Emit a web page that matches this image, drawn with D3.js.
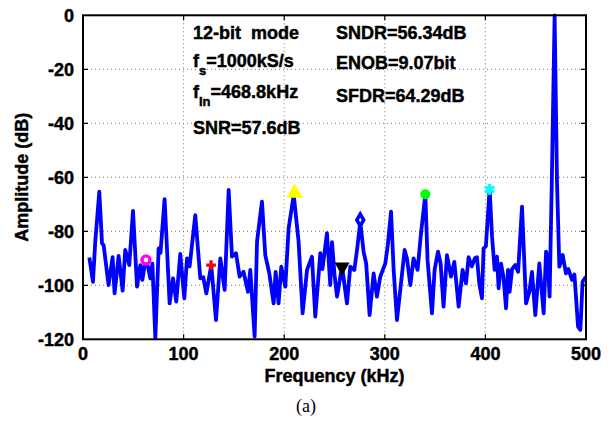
<!DOCTYPE html>
<html>
<head>
<meta charset="utf-8">
<script src="https://cdn.jsdelivr.net/npm/d3@7"></script>
<style>
  body { margin: 0; background: #fff; }
  svg { display: block; }
  .lbl { font-family: "Liberation Sans", Arial, Helvetica, sans-serif; font-weight: bold; fill: #000;
         stroke: #000; stroke-width: 0.45px; }
</style>
</head>
<body>
<div id="chart"></div>
<script>
// spectrum: frequency (kHz) and amplitude (dB)
const freq = [6.3, 9.9, 12.2, 16.2, 18.9, 20.5, 25.4, 29.4, 31.4, 35.4, 39.4, 42, 46, 49.7, 53.7, 57, 59, 62, 64.5,
  66.9, 69, 71.9, 75.2, 77, 81.1, 86.1, 89.5, 92.7, 96.7, 100.7, 103.4, 106, 111.6, 116.6, 119.5, 122.6, 127.5,
  132.2, 136.5, 140.8, 144.8, 148.1, 152.1, 155.7, 159.6, 164, 166.3, 170.6, 173, 177.9, 181.2, 185.2, 189.5,
  191.5, 194.4, 197.1, 201.1, 204.4, 209.5, 214.3, 218.3, 222.7, 227.6, 230.9, 235.9, 238, 242.5, 245.8, 247.5,
  250, 252.5, 257.5, 260, 262.4, 265.7, 269.7, 272.4, 275.6, 278.9, 281.5, 284.9, 288.9, 292.2, 295.5, 300.5,
  303, 306.2, 308.8, 312.1, 316.1, 319.7, 322, 325.4, 328.6, 332.6, 336, 340.3, 342.5, 346.9, 349.5, 352.9,
  355.5, 358.4, 361.8, 365.8, 369.1, 373.4, 377.3, 380.7, 383.3, 386.5, 389.5, 391.6, 393.9, 396.6, 398.2,
  400.5, 404.2, 406.6, 409.2, 411.5, 413.1, 415.5, 418, 420.5, 422.5, 424.1, 426.5, 429.7, 432.5, 436.4,
  440.4, 443.7, 446.3, 449.6, 453.6, 457.9, 460.3, 461.8, 463.8, 466, 468.8, 471.2, 473.5, 476.8, 480.1,
  482.5, 486.1, 488.5, 492.1, 494.4, 496.6, 500];
const amp = [-89.7, -98.7, -83.8, -65.3, -84.5, -85.1, -99.9, -89.6, -103, -89.1, -102, -86.9, -92.5, -72.4, -100.5, -92.5, -98, -91, -93,
  -97.4, -92, -119.6, -86.3, -88, -68.1, -106.7, -97.4, -106, -88.4, -104.8, -90, -93, -74, -97.4, -97, -103, -92.5,
  -112.9, -90, -101.7, -64.7, -89.4, -88.1, -96.8, -95, -102.4, -94.3, -119, -83.8, -69, -88.8, -95.6, -106.7,
  -95, -106.7, -93.1, -100.5, -78.9, -66.5, -83.8, -110.4, -94.3, -89.4, -111.6, -88.1, -94, -80.7, -99.9, -84,
  -96, -104.2, -93, -100, -106.7, -93.1, -94.3, -86.9, -76.5, -87.5, -92, -111, -95.6, -104.2, -96.8, -91.9,
  -85, -72.7, -94.3, -112.9, -99.3, -86.9, -90, -99.9, -90, -94.3, -80.7, -66.3, -90.6, -110.4, -94.3, -87.5,
  -92, -107.9, -88.8, -96.8, -91.3, -107.9, -94.3, -99.3, -89.6, -93, -90, -89.6, -99.3, -104.8, -86.3,
  -85.5, -64.3, -82, -94.3, -89.4, -101.1, -92, -97, -108.5, -94.3, -102.4, -94, -92.5, -95, -70.9,
  -106.7, -102.4, -95, -111, -91.9, -110.4, -87.5, -89, -104.2, -62, 0, -62, -93.1, -88.8, -95.6,
  -94, -98, -96, -115.3, -116.5, -98.7, -96.8];

// harmonic markers
const markFreq = [62.6, 127.3, 210.3, 257.5, 275.6, 340.3, 404.2];
const markAmp = [-90.6, -92.5, -65.8, -93.2, -75.8, -66.3, -64.5];
const markKind = ['ring', 'plus', 'triUp', 'triDown', 'diamond', 'dot', 'star'];
const markColor = ['#ff00ff', '#ff0000', '#ffff00', '#000000', '#0000ff', '#00ff00', '#00ffff'];

const xTicks = [0, 100, 200, 300, 400, 500];
const yTicks = [0, -20, -40, -60, -80, -100, -120];

const W = 611, H = 426;
const L = 83, R = 586, T = 15.3, B = 339.3;

const svg = d3.select('#chart').append('svg')
  .attr('width', W).attr('height', H);

const x = d3.scaleLinear().domain([0, 500]).range([L, R]);
const y = d3.scaleLinear().domain([-120, 0]).range([B, T]);

// grid
const grid = svg.append('g')
  .attr('stroke', '#777').attr('stroke-width', 1).attr('stroke-dasharray', '1,3');
grid.selectAll('.gx').data(xTicks.slice(1, -1)).enter().append('line')
  .attr('x1', d => x(d)).attr('x2', d => x(d)).attr('y1', T).attr('y2', B);
grid.selectAll('.gy').data(yTicks.slice(1, -1)).enter().append('line')
  .attr('x1', L).attr('x2', R).attr('y1', d => y(d)).attr('y2', d => y(d));

// spectrum line
svg.append('clipPath').attr('id', 'clip').append('rect')
  .attr('x', L).attr('y', T - 2).attr('width', R - L).attr('height', B - T + 2);

const pts = freq.map((f, i) => [f, amp[i]]);
svg.append('path')
  .datum(pts)
  .attr('clip-path', 'url(#clip)')
  .attr('fill', 'none')
  .attr('stroke', '#0000ff')
  .attr('stroke-width', 3.8)
  .attr('stroke-linejoin', 'round')
  .attr('d', d3.line().x(d => x(d[0])).y(d => y(d[1])));

// markers
const mk = svg.append('g');
markFreq.forEach((f, i) => {
  const g = mk.append('g').attr('transform', `translate(${x(f)},${y(markAmp[i])})`);
  const c = markColor[i];
  switch (markKind[i]) {
    case 'ring':
      g.append('circle').attr('r', 4).attr('fill', '#fff').attr('stroke', c).attr('stroke-width', 3.4);
      break;
    case 'plus':
      g.append('path').attr('d', d3.symbol(d3.symbolCross, 52)()).attr('fill', c);
      break;
    case 'triUp':
      g.append('path').attr('d', d3.symbol(d3.symbolTriangle, 115)()).attr('fill', c);
      break;
    case 'triDown':
      g.append('path').attr('d', d3.symbol(d3.symbolTriangle, 100)()).attr('transform', 'rotate(180)').attr('fill', c);
      break;
    case 'diamond':
      g.append('path').attr('d', d3.symbol(d3.symbolDiamond, 40)()).attr('fill', '#fff')
        .attr('stroke', c).attr('stroke-width', 3.6);
      break;
    case 'dot':
      g.append('circle').attr('r', 5).attr('fill', c);
      break;
    case 'star':
      [0, 60, 120].forEach(a => {
        g.append('line').attr('x1', 0).attr('y1', -5.5).attr('x2', 0).attr('y2', 5.5)
          .attr('transform', `rotate(${a})`).attr('stroke', c).attr('stroke-width', 3);
      });
      g.append('circle').attr('r', 3.5).attr('fill', c);
      break;
  }
});

// axes box
const axes = svg.append('g').attr('stroke', '#000').attr('stroke-width', 2).attr('fill', 'none');
axes.append('rect').attr('x', L).attr('y', T).attr('width', R - L).attr('height', B - T);
axes.selectAll('.tx').data(xTicks.slice(1, -1)).enter().append('path')
  .attr('stroke-width', 1.2)
  .attr('d', d => `M${x(d)},${B}v-5M${x(d)},${T}v5`);
axes.selectAll('.ty').data(yTicks.slice(1, -1)).enter().append('path')
  .attr('stroke-width', 1.2)
  .attr('d', d => `M${L},${y(d)}h5M${R},${y(d)}h-5`);

// tick labels
svg.selectAll('.xl').data(xTicks).enter().append('text')
  .attr('class', 'lbl').attr('font-size', 18)
  .attr('x', d => x(d)).attr('y', B + 21)
  .attr('text-anchor', 'middle')
  .text(d => d);
svg.selectAll('.yl').data(yTicks).enter().append('text')
  .attr('class', 'lbl').attr('font-size', 18)
  .attr('x', L - 9).attr('y', d => y(d) + 6.5)
  .attr('text-anchor', 'end')
  .text(d => d);

// axis titles
svg.append('text').attr('class', 'lbl').attr('font-size', 18)
  .attr('x', (L + R) / 2).attr('y', B + 43).attr('text-anchor', 'middle')
  .text('Frequency (kHz)');
svg.append('text').attr('class', 'lbl').attr('font-size', 18)
  .attr('transform', `translate(28,${(T + B) / 2}) rotate(-90)`)
  .attr('text-anchor', 'middle')
  .text('Amplitude (dB)');

// annotation text
function note(px, py, main, sub, rest) {
  const t = svg.append('text').attr('class', 'lbl').attr('font-size', 18).attr('x', px).attr('y', py);
  t.append('tspan').text(main);
  if (sub) {
    t.append('tspan').attr('font-size', 13).attr('dy', 8).text(sub);
    t.append('tspan').attr('dy', -8).text(rest);
  }
}
note(193, 38.5, '12-bit\u00a0\u00a0mode');
note(193, 67, 'f', 's', '=1000kS/s');
note(193, 97.5, 'f', 'In', '=468.8kHz');
note(193, 133.5, 'SNR=57.6dB');
note(336, 38.5, 'SNDR=56.34dB');
note(336, 68.5, 'ENOB=9.07bit');
note(336, 101.5, 'SFDR=64.29dB');

svg.append('text')
  .attr('x', 306).attr('y', 412).attr('text-anchor', 'middle')
  .attr('font-family', '"Liberation Serif", "Times New Roman", serif')
  .attr('font-size', 18)
  .text('(a)');
</script>
</body>
</html>
